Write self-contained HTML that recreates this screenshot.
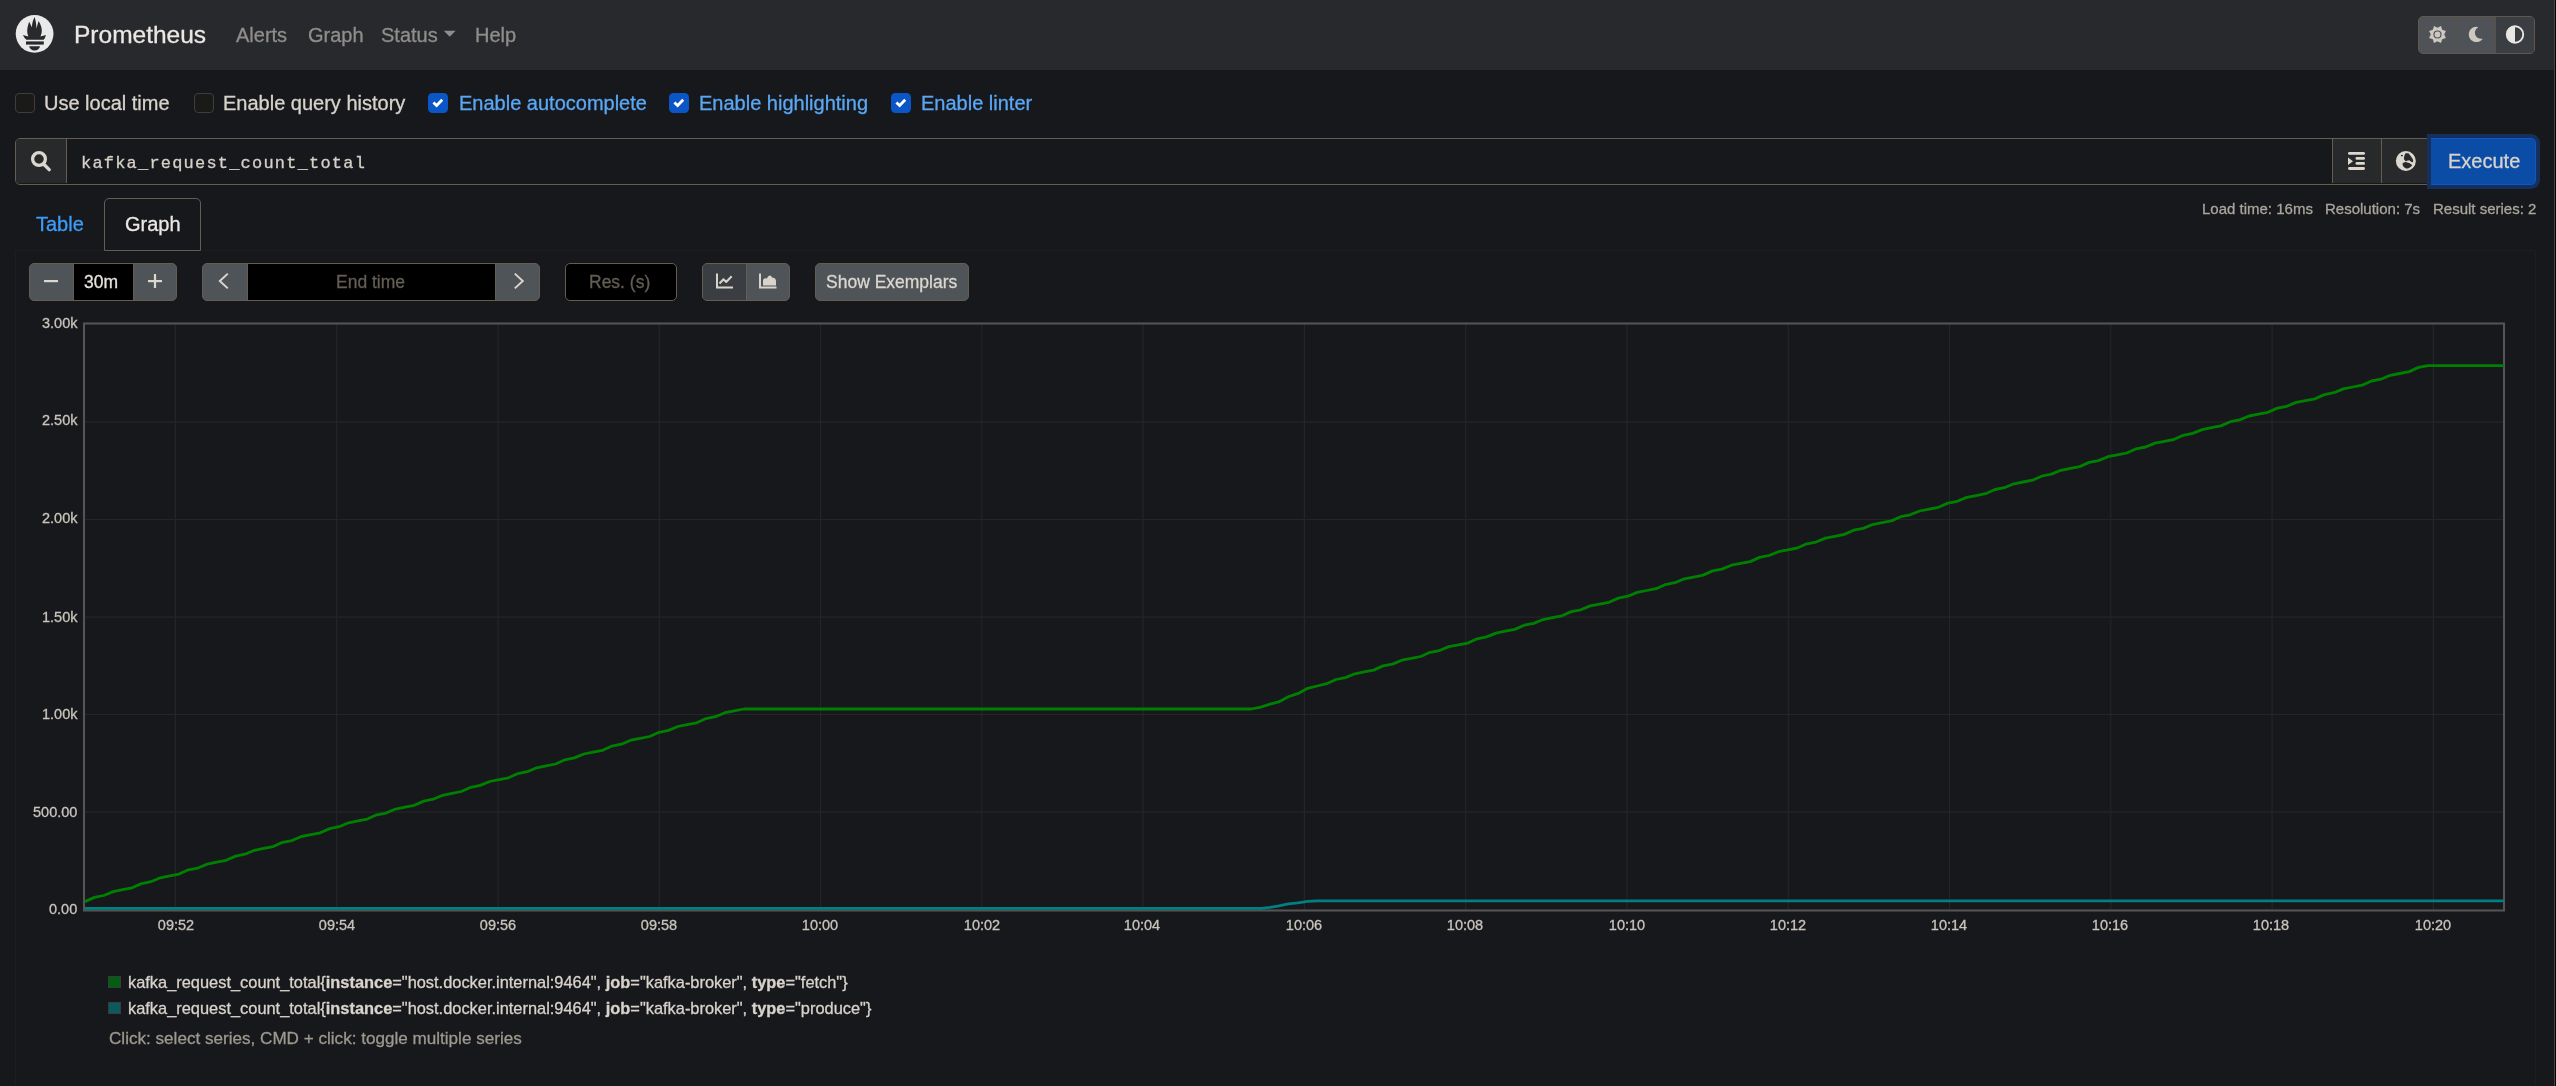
<!DOCTYPE html>
<html><head><meta charset="utf-8"><title>Prometheus Time Series Collection and Processing Server</title>
<style>
*{box-sizing:border-box;margin:0;padding:0}
html,body{width:2556px;height:1086px;overflow:hidden;background:#17181c;font-family:"Liberation Sans", sans-serif;}
.t{position:absolute;white-space:pre;will-change:transform;-webkit-text-stroke:0.3px currentColor;}
.t b{font-weight:700}
.bl{display:inline-block;width:0;height:0}
.abs{position:absolute}
</style></head>
<body>
<div class="abs" style="left:0;top:0;width:2556px;height:70px;background:#28292c"></div>
<svg class="abs" style="left:0;top:0" width="70" height="70" viewBox="0 0 70 70">
<circle cx="34.6" cy="33.85" r="18.9" fill="#e9e9e9"/>
<path fill="#27292c" d="M34.5,17.1 C35.6,20.2 36.6,24.5 36.3,28.6 C37.2,26 37.9,23.6 38.55,21.1 C40.4,24.2 41.9,27.6 41.8,30.8 C41.7,33.2 41,35 40.5,36.4 L45.9,35 C45.3,37.3 44.6,38.9 43.6,39.7 L26.4,39.7 C25.4,38.9 23.9,37.3 22.9,35 L28.4,36.4 C27.6,34.6 27.1,32.6 27.2,30.5 C27.4,27.4 28.2,24.4 29.2,21.7 C30,23.6 31,25.4 31.9,27.2 C32,23.6 33,20.2 34.5,17.1 Z"/>
<rect x="26" y="41.4" width="17.8" height="3.2" fill="#27292c"/>
<path fill="#27292c" d="M29.2,46.2 L40,46.2 C39.6,48.9 37.5,50.4 34.6,50.4 C31.7,50.4 29.6,48.9 29.2,46.2 Z"/>
</svg>
<svg class="abs" style="left:443px;top:30px" width="14" height="8" viewBox="0 0 14 8"><path d="M0.8 0.8 L12.6 0.8 L6.7 6.7 Z" fill="#8f8e8a"/></svg>
<div class="abs" style="left:2418px;top:16px;width:117px;height:38px;border:1.5px solid #5f584c;border-radius:5px;background:#4f5358;overflow:hidden"><div class="abs" style="left:76px;top:0;width:40px;height:36px;background:#3a3e42"></div><div class="abs" style="left:37px;top:0;width:1.2px;height:36px;background:#5a5345"></div><div class="abs" style="left:76px;top:0;width:1.2px;height:36px;background:#5a5345"></div></div>
<svg class="abs" style="left:0;top:0" width="2556" height="70"><path fill="#cdc8bf" fill-rule="evenodd" d="M2441.0,26.1 L2442.2,29.8 L2445.9,31.0 L2444.2,34.5 L2445.9,38.0 L2442.2,39.2 L2441.0,42.9 L2437.5,41.2 L2434.0,42.9 L2432.8,39.2 L2429.1,38.0 L2430.8,34.5 L2429.1,31.0 L2432.8,29.8 L2434.0,26.1 L2437.5,27.8 Z M2437.5,30.4 A4.1,4.1 0 1,0 2437.5,38.6 A4.1,4.1 0 1,0 2437.5,30.4 Z"/><circle cx="2437.5" cy="34.5" r="2.9" fill="#cdc8bf"/><path fill="#cdc8bf" transform="translate(2468.0,26.8) scale(0.0298)" d="M283.211 512c78.962 0 151.079-35.925 198.857-94.792 7.068-8.708-.639-21.43-11.562-19.35-124.203 23.654-238.262-71.576-238.262-196.954 0-72.222 38.662-138.635 101.498-174.394 9.686-5.512 7.25-20.197-3.756-22.23A258.156 258.156 0 0 0 283.211 0c-141.309 0-256 114.511-256 256 0 141.309 114.511 256 256 256z"/><circle cx="2515" cy="34.5" r="8.2" fill="none" stroke="#e8e7e4" stroke-width="1.9"/><path d="M2515,26.3 A8.2,8.2 0 0,0 2515,42.7 Z" fill="#e8e7e4"/></svg>
<div class="abs" style="left:2553.8px;top:0;width:1.5px;height:1086px;background:#444446"></div>
<div class="abs" style="left:2555.3px;top:0;width:1px;height:1086px;background:#000"></div>
<div class="abs" style="left:15px;top:93px;width:20px;height:20px;border-radius:4px;background:#1a1b18;border:1.5px solid #3e3e3a"></div>
<div class="abs" style="left:194px;top:93px;width:20px;height:20px;border-radius:4px;background:#1a1b18;border:1.5px solid #3e3e3a"></div>
<div class="abs" style="left:428px;top:93px;width:20px;height:20px;border-radius:4.5px;background:#0b56c6"></div><svg class="abs" style="left:428px;top:93px" width="20" height="20" viewBox="0 0 20 20"><path d="M5.4 9.5 L8.6 12.5 L14.2 6.7" fill="none" stroke="#fff" stroke-width="2.8" stroke-linecap="butt" stroke-linejoin="miter"/></svg>
<div class="abs" style="left:669px;top:93px;width:20px;height:20px;border-radius:4.5px;background:#0b56c6"></div><svg class="abs" style="left:669px;top:93px" width="20" height="20" viewBox="0 0 20 20"><path d="M5.4 9.5 L8.6 12.5 L14.2 6.7" fill="none" stroke="#fff" stroke-width="2.8" stroke-linecap="butt" stroke-linejoin="miter"/></svg>
<div class="abs" style="left:891px;top:93px;width:20px;height:20px;border-radius:4.5px;background:#0b56c6"></div><svg class="abs" style="left:891px;top:93px" width="20" height="20" viewBox="0 0 20 20"><path d="M5.4 9.5 L8.6 12.5 L14.2 6.7" fill="none" stroke="#fff" stroke-width="2.8" stroke-linecap="butt" stroke-linejoin="miter"/></svg>
<div class="abs" style="left:15px;top:138px;width:2521px;height:47px;border:1.5px solid #655d4f;border-radius:5px;background:#17181c;overflow:hidden"><div class="abs" style="left:0;top:0;width:50.5px;height:44px;background:#28292b;border-right:1.5px solid #655d4f"></div><div class="abs" style="left:2315.5px;top:0;width:50px;height:44px;background:#28292b;border-left:1.5px solid #655d4f;border-right:1.5px solid #655d4f"></div><div class="abs" style="left:2366px;top:0;width:50px;height:44px;background:#28292b"></div></div>
<div class="abs" style="left:2427px;top:134px;width:113px;height:55px;border-radius:0 9px 9px 0;background:#16305c"></div>
<div class="abs" style="left:2430.5px;top:138px;width:105.5px;height:47px;border-radius:0 5px 5px 0;background:#0a4ca6;border:1.2px solid #0c58c8;border-left:none"></div>
<svg class="abs" style="left:0;top:130px" width="2556" height="60"><circle cx="39" cy="29" r="6.4" fill="none" stroke="#dcd8d0" stroke-width="3.3"/><path d="M43.8 34.2 L49.2 39.6" stroke="#dcd8d0" stroke-width="3.4" stroke-linecap="round"/><g fill="#dcd8d0"><rect x="2348" y="22" width="17" height="2.8" rx="1.4"/><rect x="2355.5" y="27.1" width="9.5" height="2.7" rx="1.35"/><rect x="2355.5" y="32.1" width="9.5" height="2.7" rx="1.35"/><rect x="2348" y="37.1" width="17" height="2.8" rx="1.4"/><path d="M2348 27.6 L2353 31.3 L2348 35 Z"/></g><circle cx="2405.85" cy="30.96" r="10" fill="#dcd8d0"/><path fill="#28292b" d="M2405.2,23.6 C2406.3,23.2 2407.6,23.1 2408.5,23.3 C2409.2,24 2409.6,24.6 2409.8,25 C2410.6,25.8 2411.2,26.6 2411.5,27.3 C2412.3,28.4 2413,29.4 2413.2,30.6 C2413.2,31.3 2413,31.9 2412.8,32.3 C2412,32.2 2411.4,31.9 2410.8,31.6 C2410.2,31 2409.6,30.5 2409.2,30.3 C2408.6,30.4 2408,30.5 2407.5,30.6 C2406.8,30.9 2406.3,31.2 2405.8,31.3 C2405,30.6 2404.3,29.8 2403.9,29 C2403.9,28.2 2404,27.3 2404.2,26.6 C2404.4,25.6 2404.6,24.8 2404.8,25 C2404.9,24.4 2405,23.9 2405.2,23.6 Z"/><path fill="#28292b" d="M2402.5,33.6 C2403.4,32.8 2404.4,32.2 2405.5,32.1 C2406.8,32.3 2408,32.6 2409.2,33 C2410.3,33.6 2411.3,34.3 2412.2,35 C2411.6,36 2410.8,37 2409.8,37.6 C2409,38.2 2408.2,38.5 2407.5,38.6 C2406.6,38.6 2405.8,38.4 2405.2,38 C2404.4,37.5 2403.8,36.9 2403.2,36.3 C2402.8,35.5 2402.5,34.5 2402.5,33.6 Z"/><ellipse cx="2401.9" cy="25.6" rx="1.1" ry="0.8" fill="#28292b"/></svg>
<div class="abs" style="left:15px;top:250px;width:2521px;height:840px;border:1px solid #1c1e1f"></div>
<div class="abs" style="left:104px;top:198px;width:97px;height:52.5px;border:1.5px solid #655d4f;border-radius:5px 5px 0 0;background:#17181c"></div>
<div class="abs" style="left:29px;top:263px;width:148px;height:38px;border:1.5px solid #655d4f;border-radius:5px;background:#4f5458;overflow:hidden"><div class="abs" style="left:42.5px;top:0;width:61px;height:36px;background:#000;border-left:0.8px solid #655d4f;border-right:0.8px solid #655d4f"></div></div>
<div class="abs" style="left:202px;top:263px;width:338px;height:38px;border:1.5px solid #655d4f;border-radius:5px;background:#4f5458;overflow:hidden"><div class="abs" style="left:43.5px;top:0;width:249.5px;height:36px;background:#000;border-left:1px solid #655d4f;border-right:1px solid #655d4f"></div></div>
<div class="abs" style="left:565px;top:263px;width:112px;height:38px;border:1.5px solid #655d4f;border-radius:5px;background:#000"></div>
<div class="abs" style="left:702px;top:263px;width:88px;height:38px;border:1.5px solid #655d4f;border-radius:5px;background:#4f5458;overflow:hidden"><div class="abs" style="left:0;top:0;width:43.5px;height:36px;background:#3a3e42;border-right:1.5px solid #655d4f"></div></div>
<div class="abs" style="left:815px;top:263px;width:154px;height:38px;border:1.5px solid #655d4f;border-radius:5px;background:#4f5458"></div>
<svg class="abs" style="left:0;top:255px" width="1000" height="50"><rect x="44" y="25" width="14" height="2.2" fill="#dcd8d0"/><rect x="148" y="25" width="14" height="2.2" fill="#dcd8d0"/><rect x="153.9" y="19" width="2.2" height="14" fill="#dcd8d0"/><path d="M227.8 18.6 L219.8 26 L227.8 33.4" fill="none" stroke="#dcd8d0" stroke-width="1.9"/><path d="M514.8 18.6 L522.8 26 L514.8 33.4" fill="none" stroke="#dcd8d0" stroke-width="1.9"/><path d="M717 18.5 L717 32.5 L733 32.5" fill="none" stroke="#d8d3cb" stroke-width="2" /><path d="M719.5 28.5 L723.5 24.3 L726.2 27 L731.7 21.3" fill="none" stroke="#d8d3cb" stroke-width="2" stroke-linejoin="round"/><path d="M760 18.5 L760 32.5 L776.5 32.5" fill="none" stroke="#d8d3cb" stroke-width="2" /><path d="M763 30.6 L763 25.6 C763 23.6 765 22.5 766.5 23.7 L768.5 21 C769.5 20.3 770.3 20.3 771 21 L772.5 22.8 C774.5 22.5 776 24 776 26 L776 30.6 Z" fill="#d8d3cb"/></svg>
<svg class="abs" style="left:0;top:0" width="2556" height="1086">
<g stroke="#242528" stroke-width="1.2"><line x1="175.4" y1="324.5" x2="175.4" y2="909.5" /><line x1="336.7" y1="324.5" x2="336.7" y2="909.5" /><line x1="498.0" y1="324.5" x2="498.0" y2="909.5" /><line x1="659.3" y1="324.5" x2="659.3" y2="909.5" /><line x1="820.5" y1="324.5" x2="820.5" y2="909.5" /><line x1="981.8" y1="324.5" x2="981.8" y2="909.5" /><line x1="1143.1" y1="324.5" x2="1143.1" y2="909.5" /><line x1="1304.4" y1="324.5" x2="1304.4" y2="909.5" /><line x1="1465.7" y1="324.5" x2="1465.7" y2="909.5" /><line x1="1627.0" y1="324.5" x2="1627.0" y2="909.5" /><line x1="1788.3" y1="324.5" x2="1788.3" y2="909.5" /><line x1="1949.5" y1="324.5" x2="1949.5" y2="909.5" /><line x1="2110.8" y1="324.5" x2="2110.8" y2="909.5" /><line x1="2272.1" y1="324.5" x2="2272.1" y2="909.5" /><line x1="2433.4" y1="324.5" x2="2433.4" y2="909.5" /><line x1="85" y1="422.05" x2="2503" y2="422.05" /><line x1="85" y1="519.50" x2="2503" y2="519.50" /><line x1="85" y1="617.20" x2="2503" y2="617.20" /><line x1="85" y1="714.50" x2="2503" y2="714.50" /><line x1="85" y1="812.05" x2="2503" y2="812.05" /></g>
<rect x="84" y="323.5" width="2420" height="587" fill="none" stroke="#545454" stroke-width="2.1"/>
<path d="M85.0,908.4 L1261.7,908.4 L1270.0,907.4 L1278.9,905.8 L1288.3,903.8 L1297.8,902.8 L1307.8,901.4 L1317.2,900.9 L2504.0,900.9" fill="none" stroke="#008080" stroke-width="2.8" stroke-linejoin="round"/>
<path d="M85.0,901.6 L94.4,897.4 L103.8,895.5 L113.2,891.6 L122.6,889.7 L132.1,887.8 L141.5,883.6 L150.9,881.7 L160.3,877.8 L169.7,875.9 L179.1,874.1 L188.5,869.8 L197.9,868.0 L207.3,864.1 L216.7,862.2 L226.2,860.3 L235.6,856.1 L245.0,854.2 L254.4,850.3 L263.8,848.4 L273.2,846.6 L282.6,842.3 L292.0,840.5 L301.4,836.5 L310.9,834.7 L320.3,832.8 L329.7,828.6 L339.1,826.7 L348.5,822.8 L357.9,820.9 L367.3,819.1 L376.7,814.8 L386.1,813.0 L395.6,809.0 L405.0,807.2 L414.4,805.3 L423.8,801.1 L433.2,799.2 L442.6,795.3 L452.0,793.4 L461.4,791.5 L470.8,787.3 L480.2,785.4 L489.7,781.5 L499.1,779.6 L508.5,777.8 L517.9,773.5 L527.3,771.7 L536.7,767.8 L546.1,765.9 L555.5,764.0 L564.9,759.8 L574.4,757.9 L583.8,754.0 L593.2,752.1 L602.6,750.3 L612.0,746.0 L621.4,744.2 L630.8,740.2 L640.2,738.4 L649.6,736.5 L659.1,732.3 L668.5,730.4 L677.9,726.5 L687.3,724.6 L696.7,722.8 L706.1,718.5 L715.5,716.7 L724.9,712.7 L734.3,710.9 L743.8,709.0 L1251.2,709.0 L1260.7,707.1 L1270.1,704.2 L1279.5,701.6 L1288.9,696.5 L1298.3,693.4 L1307.7,688.3 L1317.1,686.0 L1326.6,683.7 L1336.0,679.5 L1345.4,677.6 L1354.8,673.8 L1364.2,671.9 L1373.6,670.1 L1383.0,665.9 L1392.5,664.1 L1401.9,660.2 L1411.3,658.4 L1420.7,656.5 L1430.1,652.3 L1439.5,650.5 L1448.9,646.6 L1458.4,644.8 L1467.8,643.0 L1477.2,638.8 L1486.6,636.9 L1496.0,633.1 L1505.4,631.2 L1514.8,629.4 L1524.3,625.2 L1533.7,623.4 L1543.1,619.5 L1552.5,617.7 L1561.9,615.8 L1571.3,611.6 L1580.7,609.8 L1590.2,605.9 L1599.6,604.1 L1609.0,602.3 L1618.4,598.1 L1627.8,596.2 L1637.2,592.4 L1646.6,590.5 L1656.1,588.7 L1665.5,584.5 L1674.9,582.7 L1684.3,578.8 L1693.7,577.0 L1703.1,575.1 L1712.5,570.9 L1721.9,569.1 L1731.4,565.2 L1740.8,563.4 L1750.2,561.6 L1759.6,557.4 L1769.0,555.5 L1778.4,551.7 L1787.8,549.8 L1797.3,548.0 L1806.7,543.8 L1816.1,542.0 L1825.5,538.1 L1834.9,536.3 L1844.3,534.4 L1853.7,530.2 L1863.2,528.4 L1872.6,524.5 L1882.0,522.7 L1891.4,520.9 L1900.8,516.7 L1910.2,514.8 L1919.6,511.0 L1929.1,509.1 L1938.5,507.3 L1947.9,503.1 L1957.3,501.3 L1966.7,497.4 L1976.1,495.6 L1985.5,493.7 L1995.0,489.5 L2004.4,487.7 L2013.8,483.8 L2023.2,482.0 L2032.6,480.2 L2042.0,476.0 L2051.4,474.1 L2060.9,470.3 L2070.3,468.4 L2079.7,466.6 L2089.1,462.4 L2098.5,460.6 L2107.9,456.7 L2117.3,454.9 L2126.8,453.0 L2136.2,448.8 L2145.6,447.0 L2155.0,443.1 L2164.4,441.3 L2173.8,439.5 L2183.2,435.3 L2192.7,433.4 L2202.1,429.6 L2211.5,427.7 L2220.9,425.9 L2230.3,421.7 L2239.7,419.9 L2249.1,416.0 L2258.5,414.2 L2268.0,412.3 L2277.4,408.1 L2286.8,406.3 L2296.2,402.4 L2305.6,400.6 L2315.0,398.8 L2324.4,394.6 L2333.9,392.7 L2343.3,388.9 L2352.7,387.0 L2362.1,385.2 L2371.5,381.0 L2380.9,379.2 L2390.3,375.3 L2399.8,373.5 L2409.2,371.6 L2418.6,367.4 L2428.0,365.6 L2504.0,365.6" fill="none" stroke="#008000" stroke-width="2.8" stroke-linejoin="round"/>
</svg>
<div class="abs" style="left:108px;top:976px;width:13px;height:12px;border:1.5px solid #3a3b3c;background:#005f10"></div>
<div class="abs" style="left:108px;top:1002px;width:13px;height:12px;border:1.5px solid #3a3b3c;background:#0b5a5f"></div>
<div class="t" id="brand" style="left:73.80px;top:23.21px;font-size:24.5px;line-height:24.5px;color:#ebe8e3;"><i class="bl"></i>Prometheus</div>
<div class="t" id="nav1" style="left:236.00px;top:24.71px;font-size:20px;line-height:20px;color:#8f8e8a;"><i class="bl"></i>Alerts</div>
<div class="t" id="nav2" style="left:308.10px;top:24.71px;font-size:20px;line-height:20px;color:#8f8e8a;"><i class="bl"></i>Graph</div>
<div class="t" id="nav3" style="left:381.00px;top:24.71px;font-size:20px;line-height:20px;color:#8f8e8a;"><i class="bl"></i>Status</div>
<div class="t" id="nav4" style="left:475.10px;top:24.71px;font-size:20px;line-height:20px;color:#8f8e8a;"><i class="bl"></i>Help</div>
<div class="t" id="cb1" style="left:43.90px;top:93.31px;font-size:20px;line-height:20px;color:#d8d3cb;"><i class="bl"></i>Use local time</div>
<div class="t" id="cb2" style="left:223.00px;top:93.31px;font-size:20px;line-height:20px;color:#d8d3cb;"><i class="bl"></i>Enable query history</div>
<div class="t" id="cb3" style="left:458.60px;top:93.31px;font-size:20px;line-height:20px;color:#5aa8f5;"><i class="bl"></i>Enable autocomplete</div>
<div class="t" id="cb4" style="left:698.50px;top:93.31px;font-size:20px;line-height:20px;color:#5aa8f5;"><i class="bl"></i>Enable highlighting</div>
<div class="t" id="cb5" style="left:920.90px;top:93.31px;font-size:20px;line-height:20px;color:#5aa8f5;"><i class="bl"></i>Enable linter</div>
<div class="t" id="query" style="left:81.20px;top:155.01px;font-size:17.0px;line-height:17.0px;color:#d6d1c8;font-family:'Liberation Mono', monospace;letter-spacing:1.2px;"><i class="bl"></i>kafka_request_count_total</div>
<div class="t" id="exec" style="left:2448.00px;top:151.31px;font-size:20px;line-height:20px;color:#d8d3cb;"><i class="bl"></i>Execute</div>
<div class="t" id="tab1" style="left:36.00px;top:214.31px;font-size:20px;line-height:20px;color:#3d9cf7;"><i class="bl"></i>Table</div>
<div class="t" id="tab2" style="left:124.80px;top:214.31px;font-size:20px;line-height:20px;color:#ebe8e3;"><i class="bl"></i>Graph</div>
<div class="t" id="info1" style="left:2201.60px;top:200.90px;font-size:15px;line-height:15px;color:#aaa59c;"><i class="bl"></i>Load time: 16ms</div>
<div class="t" id="info2" style="left:2324.90px;top:200.90px;font-size:15px;line-height:15px;color:#aaa59c;"><i class="bl"></i>Resolution: 7s</div>
<div class="t" id="info3" style="left:2432.90px;top:200.90px;font-size:15px;line-height:15px;color:#aaa59c;"><i class="bl"></i>Result series: 2</div>
<div class="t" id="range" style="left:83.90px;top:274.00px;font-size:17.5px;line-height:17.5px;color:#e6e2dc;"><i class="bl"></i>30m</div>
<div class="t" id="endtime" style="left:335.60px;top:274.00px;font-size:17.5px;line-height:17.5px;color:#645e54;"><i class="bl"></i>End time</div>
<div class="t" id="res" style="left:589.00px;top:274.00px;font-size:17.5px;line-height:17.5px;color:#645e54;"><i class="bl"></i>Res. (s)</div>
<div class="t" id="exemplars" style="left:826.10px;top:274.00px;font-size:17.5px;line-height:17.5px;color:#dcd7cf;"><i class="bl"></i>Show Exemplars</div>
<div class="t" id="y0" style="right:2478.50px;top:316.22px;font-size:14.5px;line-height:14.5px;color:#c9c4bb;text-align:right;"><i class="bl"></i>3.00k</div>
<div class="t" id="y1" style="right:2478.50px;top:412.90px;font-size:14.5px;line-height:14.5px;color:#c9c4bb;text-align:right;"><i class="bl"></i>2.50k</div>
<div class="t" id="y2" style="right:2478.50px;top:510.91px;font-size:14.5px;line-height:14.5px;color:#c9c4bb;text-align:right;"><i class="bl"></i>2.00k</div>
<div class="t" id="y3" style="right:2478.50px;top:610.00px;font-size:14.5px;line-height:14.5px;color:#c9c4bb;text-align:right;"><i class="bl"></i>1.50k</div>
<div class="t" id="y4" style="right:2478.50px;top:706.90px;font-size:14.5px;line-height:14.5px;color:#c9c4bb;text-align:right;"><i class="bl"></i>1.00k</div>
<div class="t" id="y5" style="right:2478.50px;top:804.82px;font-size:14.5px;line-height:14.5px;color:#c9c4bb;text-align:right;"><i class="bl"></i>500.00</div>
<div class="t" id="y6" style="right:2478.50px;top:902.00px;font-size:14.5px;line-height:14.5px;color:#c9c4bb;text-align:right;"><i class="bl"></i>0.00</div>
<div class="t" id="x0" style="left:75.70px;width:200px;text-align:center;top:918.10px;font-size:14.5px;line-height:14.5px;color:#c9c4bb;"><i class="bl"></i>09:52</div>
<div class="t" id="x1" style="left:237.06px;width:200px;text-align:center;top:918.10px;font-size:14.5px;line-height:14.5px;color:#c9c4bb;"><i class="bl"></i>09:54</div>
<div class="t" id="x2" style="left:398.41px;width:200px;text-align:center;top:918.10px;font-size:14.5px;line-height:14.5px;color:#c9c4bb;"><i class="bl"></i>09:56</div>
<div class="t" id="x3" style="left:559.27px;width:200px;text-align:center;top:918.10px;font-size:14.5px;line-height:14.5px;color:#c9c4bb;"><i class="bl"></i>09:58</div>
<div class="t" id="x4" style="left:720.13px;width:200px;text-align:center;top:918.10px;font-size:14.5px;line-height:14.5px;color:#c9c4bb;"><i class="bl"></i>10:00</div>
<div class="t" id="x5" style="left:881.99px;width:200px;text-align:center;top:918.10px;font-size:14.5px;line-height:14.5px;color:#c9c4bb;"><i class="bl"></i>10:02</div>
<div class="t" id="x6" style="left:1042.34px;width:200px;text-align:center;top:918.10px;font-size:14.5px;line-height:14.5px;color:#c9c4bb;"><i class="bl"></i>10:04</div>
<div class="t" id="x7" style="left:1203.70px;width:200px;text-align:center;top:918.10px;font-size:14.5px;line-height:14.5px;color:#c9c4bb;"><i class="bl"></i>10:06</div>
<div class="t" id="x8" style="left:1365.06px;width:200px;text-align:center;top:918.10px;font-size:14.5px;line-height:14.5px;color:#c9c4bb;"><i class="bl"></i>10:08</div>
<div class="t" id="x9" style="left:1526.91px;width:200px;text-align:center;top:918.10px;font-size:14.5px;line-height:14.5px;color:#c9c4bb;"><i class="bl"></i>10:10</div>
<div class="t" id="x10" style="left:1688.27px;width:200px;text-align:center;top:918.10px;font-size:14.5px;line-height:14.5px;color:#c9c4bb;"><i class="bl"></i>10:12</div>
<div class="t" id="x11" style="left:1848.63px;width:200px;text-align:center;top:918.10px;font-size:14.5px;line-height:14.5px;color:#c9c4bb;"><i class="bl"></i>10:14</div>
<div class="t" id="x12" style="left:2010.49px;width:200px;text-align:center;top:918.10px;font-size:14.5px;line-height:14.5px;color:#c9c4bb;"><i class="bl"></i>10:16</div>
<div class="t" id="x13" style="left:2171.34px;width:200px;text-align:center;top:918.10px;font-size:14.5px;line-height:14.5px;color:#c9c4bb;"><i class="bl"></i>10:18</div>
<div class="t" id="x14" style="left:2332.70px;width:200px;text-align:center;top:918.10px;font-size:14.5px;line-height:14.5px;color:#c9c4bb;"><i class="bl"></i>10:20</div>
<div class="t" id="leg1" style="left:128.10px;top:973.71px;font-size:16.4px;line-height:16.4px;color:#d8d3cb;"><i class="bl"></i>kafka_request_count_total{<b>instance</b>="host.docker.internal:9464", <b>job</b>="kafka-broker", <b>type</b>="fetch"}</div>
<div class="t" id="leg2" style="left:128.10px;top:999.51px;font-size:16.4px;line-height:16.4px;color:#d8d3cb;"><i class="bl"></i>kafka_request_count_total{<b>instance</b>="host.docker.internal:9464", <b>job</b>="kafka-broker", <b>type</b>="produce"}</div>
<div class="t" id="hint" style="left:108.60px;top:1029.71px;font-size:17.1px;line-height:17.1px;color:#9e988e;"><i class="bl"></i>Click: select series, CMD + click: toggle multiple series</div>
</body></html>
